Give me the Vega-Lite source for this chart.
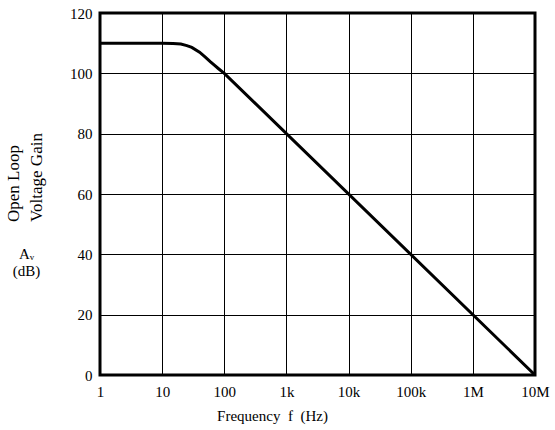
{
  "$schema": "https://vega.github.io/schema/vega-lite/v6.json",
  "width": 435,
  "height": 362,
  "autosize": "none",
  "padding": {"left": 100, "top": 13, "right": 20, "bottom": 55},
  "background": "white",
  "config": {
    "font": "Liberation Serif",
    "view": {"stroke": "black", "strokeWidth": 3},
    "axis": {
      "labelFont": "Liberation Serif",
      "titleFont": "Liberation Serif",
      "labelFontSize": 15,
      "titleFontSize": 15,
      "titleFontWeight": "normal",
      "labelColor": "black",
      "titleColor": "black",
      "gridColor": "black",
      "gridOpacity": 1,
      "gridWidth": 1,
      "domain": false,
      "ticks": false
    }
  },
  "title": {
    "text": ["Open Loop", "Voltage Gain"],
    "orient": "left",
    "anchor": "middle",
    "align": "left",
    "font": "Liberation Serif",
    "fontSize": 17,
    "fontWeight": "normal",
    "color": "black",
    "lineHeight": 23,
    "offset": -34,
    "dx": -28
  },
  "data": {
    "values": [
      {"f": 1, "gain": 110},
      {"f": 10, "gain": 110},
      {"f": 15, "gain": 109.9},
      {"f": 20, "gain": 109.7},
      {"f": 25, "gain": 109.2},
      {"f": 30, "gain": 108.6},
      {"f": 40, "gain": 107},
      {"f": 50, "gain": 105.3},
      {"f": 60, "gain": 103.8},
      {"f": 70, "gain": 102.6},
      {"f": 80, "gain": 101.6},
      {"f": 100, "gain": 100},
      {"f": 10000000, "gain": 0}
    ]
  },
  "mark": {"type": "line", "color": "black", "strokeWidth": 3, "clip": true},
  "encoding": {
    "x": {
      "field": "f",
      "type": "quantitative",
      "scale": {"type": "log", "domain": [1, 10000000], "nice": false},
      "axis": {
        "values": [1, 10, 100, 1000, 10000, 100000, 1000000, 10000000],
        "labelExpr": "datum.value >= 1000000 ? (datum.value / 1000000) + 'M' : datum.value >= 1000 ? (datum.value / 1000) + 'k' : '' + datum.value",
        "labelPadding": 9,
        "labelFlush": false,
        "labelOverlap": false,
        "title": "Frequency\u00a0 f\u00a0 (Hz)",
        "titleX": 172,
        "titleY": 40,
        "titleAlign": "center",
        "titleBaseline": "middle"
      }
    },
    "y": {
      "field": "gain",
      "type": "quantitative",
      "scale": {"domain": [0, 120], "nice": false},
      "axis": {
        "values": [0, 20, 40, 60, 80, 100, 120],
        "labelPadding": 8,
        "title": ["A\u1d65", "(dB)"],
        "titleAngle": 0,
        "titleX": -74,
        "titleY": 240,
        "titleAlign": "center",
        "titleBaseline": "middle",
        "titleLineHeight": 17
      }
    }
  }
}
